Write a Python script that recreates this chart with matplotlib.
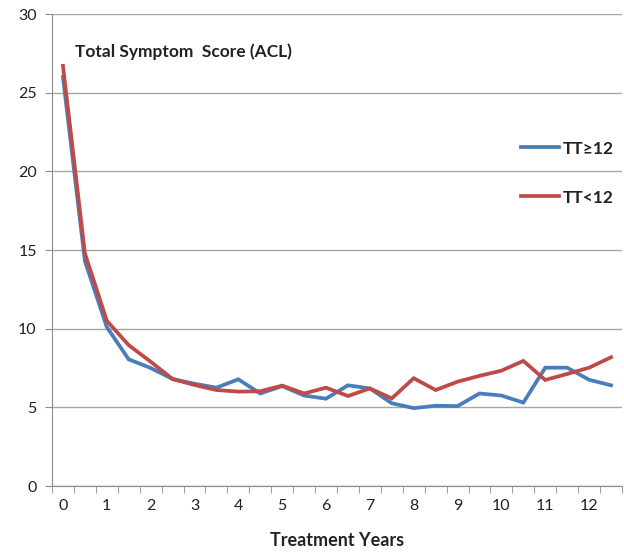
import matplotlib
matplotlib.use("Agg")
import matplotlib.pyplot as plt
import numpy as np

plt.rcParams['font.family'] = ['Lato', 'DejaVu Sans']

# treatment years in half-year steps, drawn as categories
years = [0, 0.5, 1, 1.5, 2, 2.5, 3, 3.5, 4, 4.5, 5, 5.5, 6, 6.5,
         7, 7.5, 8, 8.5, 9, 9.5, 10, 10.5, 11, 11.5, 12, 12.5]
tt_ge12 = [26.0, 14.3, 10.1, 8.05, 7.5, 6.8, 6.5, 6.25, 6.78, 5.88, 6.35, 5.75, 5.55, 6.4,
           6.2, 5.26, 4.95, 5.1, 5.08, 5.88, 5.75, 5.3, 7.52, 7.52, 6.75, 6.4]
tt_lt12 = [26.7, 14.8, 10.5, 8.95, 7.9, 6.8, 6.42, 6.1, 6.0, 6.02, 6.38, 5.88, 6.25, 5.72,
           6.2, 5.57, 6.85, 6.1, 6.63, 7.0, 7.33, 7.95, 6.74, 7.12, 7.52, 8.18]
y_ticks = [0, 5, 10, 15, 20, 25, 30]

fig = plt.figure(figsize=(6.24, 5.52), dpi=100)
ax = fig.add_axes([52 / 624, 66 / 552, 570 / 624, 472 / 552])

pos = np.arange(len(years))
ax.plot(pos, tt_ge12, color='#4a7ebb', lw=2.7, label='TT≥12', solid_joinstyle='miter')
ax.plot(pos, tt_lt12, color='#be4b48', lw=2.7, label='TT<12', solid_joinstyle='miter')

ax.set_xlim(-0.5, len(years) - 0.5)
ax.set_ylim(0, 30)
ax.set_yticks(y_ticks)
ax.yaxis.grid(True, color='#a6a6a6', lw=1.0)
ax.set_axisbelow(True)

major = pos[::2]
ax.set_xticks(major)
ax.set_xticklabels([str(int(y)) for y in np.array(years)[major]])
ax.set_xticks(np.arange(-0.5, len(years)), minor=True)
ax.tick_params(axis='x', which='major', length=0, pad=9, labelsize=11.5, colors='#222222')
ax.tick_params(axis='x', which='minor', length=5, color='#8c8c8c')
ax.tick_params(axis='y', length=5, color='#8c8c8c', labelsize=11.5, labelcolor='#222222', pad=6)

for s in ['top', 'right']:
    ax.spines[s].set_visible(False)
for s in ['left', 'bottom']:
    ax.spines[s].set_color('#8c8c8c')

ax.set_xlabel('Treatment Years', fontsize=13, fontweight='bold', labelpad=14, color='#222222')
ax.text(0.04, 0.92, 'Total Symptom  Score (ACL)', transform=ax.transAxes,
        fontsize=12.5, fontweight='bold', color='#222222', va='center')

leg = ax.legend(loc='upper left', bbox_to_anchor=(0.795, 0.765), frameon=False,
                handlelength=2.2, handletextpad=0.2, labelspacing=1.9,
                prop={'weight': 'bold', 'size': 12.5})
for t in leg.get_texts():
    t.set_color('#222222')

fig.savefig('out.png', dpi=100)
